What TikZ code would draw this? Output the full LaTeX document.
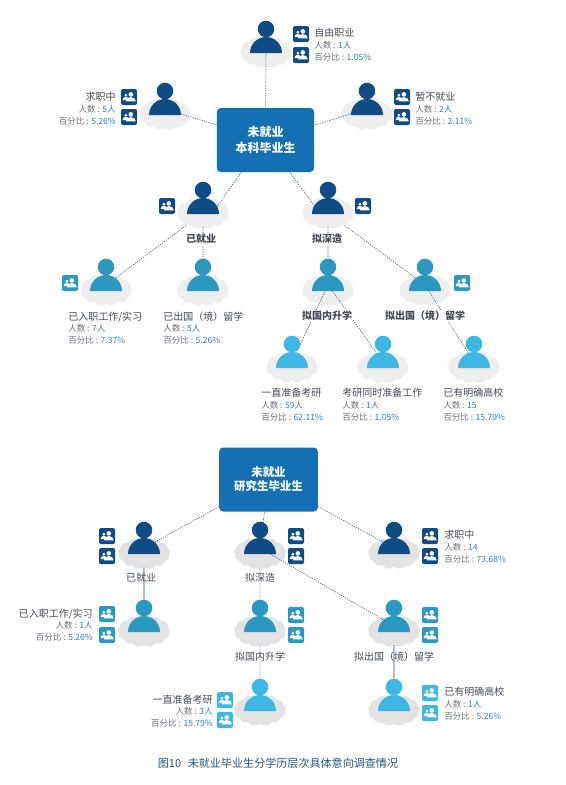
\documentclass[tikz,border=0pt]{standalone}
\usepackage{fontspec}
\setmainfont{Noto Sans CJK SC}
\usetikzlibrary{backgrounds,shapes.symbols}
\definecolor{navy}{HTML}{0F4C85}
\definecolor{teal}{HTML}{2A98C0}
\definecolor{sky}{HTML}{3DB8E4}
\definecolor{hubblue}{HTML}{1470B3}
\definecolor{cloudgrey}{HTML}{EEEEEE}
\definecolor{titleink}{HTML}{444A55}
\definecolor{keyink}{HTML}{6A6F78}
\definecolor{valink}{HTML}{2F80BD}
\definecolor{linkink}{HTML}{3A5A78}
\newcommand{\infotext}[3]{{\fontsize{7.5}{9}\selectfont\color{titleink}#1}\\{\color{keyink}人数 : }{\color{valink}#2}\\{\color{keyink}百分比 : }{\color{valink}#3}}

\begin{document}
\begin{tikzpicture}[
        x=0.75pt, y=-0.75pt,
        hub/.style={rectangle, rounded corners=3pt, fill=hubblue, text=white, align=center, font=\fontsize{9}{11.5}\selectfont\bfseries, minimum width=73pt, minimum height=48pt},
        blob/.style={cloud, cloud puffs=13, cloud puff arc=90, aspect=1.6, fill=cloudgrey, minimum width=39pt, minimum height=24pt, inner sep=0pt},
        headdot/.style={circle, minimum size=12.4pt, inner sep=0pt},
        badgebox/.style={rectangle, rounded corners=1.5pt, minimum size=12pt, inner sep=0pt},
        infol/.style={align=left, anchor=west, inner sep=0pt, font=\fontsize{6.4}{8.9}\selectfont},
        infor/.style={align=right, anchor=east, inner sep=0pt, font=\fontsize{6.4}{8.9}\selectfont},
        midlabel/.style={font=\fontsize{7.5}{9}\selectfont\bfseries, text=titleink, fill=white, inner sep=1pt},
        barelabel/.style={font=\fontsize{7.5}{9}\selectfont, text=titleink, inner sep=1pt},
        link/.style={draw=linkink, line width=0.45pt, dash pattern=on 0.9pt off 0.9pt},
        palelink/.style={draw=gray!70, line width=0.7pt, dash pattern=on 1pt off 0.7pt},
        solidlink/.style={draw=navy, line width=0.6pt},
        pics/person/.style={code={
          \begin{pgfonlayer}{background}
            \node[blob] (-cloud) at (0,23) {};
          \end{pgfonlayer}
          \coordinate (-mid) at (0,18);
          \fill[#1] (-16,24) .. controls (-16,15.2) and (-8.8,8) .. (0,8) .. controls (8.8,8) and (16,15.2) .. (16,24) -- cycle;
          \node[headdot, fill=#1] (-head) at (0,0) {};
        }},
        pics/badge/.style={code={
          \node[badgebox, fill=#1] (-box) at (0,0) {};
          \fill[white] (-3.2,-1.8) circle[radius=1.5];
          \fill[white] (-6.4,3) .. controls (-6.4,1.2) and (-5,-0.2) .. (-3.2,-0.2) .. controls (-1.4,-0.2) and (0,1.2) .. (0,3) -- cycle;
          \fill[white] (1.8,-2.6) circle[radius=2.3];
          \fill[white] (-3.2,4.4) .. controls (-3.2,2) and (-1,0) .. (1.8,0) .. controls (4.6,0) and (6.8,2) .. (6.8,4.4) -- cycle;
        }}
      ]
      \useasboundingbox (0,0) rectangle (566,785);

      \node[hub] (ubox) at (265.5,140) {未就业\\本科毕业生};
      \pic (free) at (266,29) {person=navy};
      \pic (seek) at (165,91) {person=navy};
      \pic (pause) at (367,91) {person=navy};
      \pic (emp) at (203,190) {person=navy};
      \pic (study) at (328,190) {person=navy};
      \pic (entry) at (106,267) {person=teal};
      \pic (gone) at (203,267) {person=teal};
      \pic (home) at (328,267) {person=teal};
      \pic (abroad) at (425,267) {person=teal};
      \pic (prep) at (292,344) {person=sky};
      \pic (both) at (383,344) {person=sky};
      \pic (school) at (474,344) {person=sky};

      \pic (freea) at (301,34) {badge=navy};
      \pic (freeb) at (301,55) {badge=navy};
      \pic (seeka) at (129,97) {badge=navy};
      \pic (seekb) at (129,117) {badge=navy};
      \pic (pausea) at (402,97) {badge=navy};
      \pic (pauseb) at (402,117) {badge=navy};
      \pic (empa) at (167,206) {badge=navy};
      \pic (studya) at (363,206) {badge=navy};
      \pic (entrya) at (70,283) {badge=teal};
      \pic (abroada) at (462,283) {badge=teal};

      \node[infol] (freetxt) at (314,45) {\infotext{自由职业}{1人}{1.05\%}};
      \node[infor] (seektxt) at (116,108.5) {\infotext{求职中}{5人}{5.26\%}};
      \node[infol] (pausetxt) at (415,108.5) {\infotext{暂不就业}{2人}{2.11\%}};
      \node[infol] (entrytxt) at (68,328) {\infotext{已入职工作/实习}{7人}{7.37\%}};
      \node[infol] (gonetxt) at (163,328) {\infotext{已出国（境）留学}{5人}{5.26\%}};
      \node[infol] (preptxt) at (261,404.5) {\infotext{一直准备考研}{59人}{62.11\%}};
      \node[infol] (bothtxt) at (342,404.5) {\infotext{考研同时准备工作}{1人}{1.05\%}};
      \node[infol] (schooltxt) at (443,404.5) {\infotext{已有明确高校}{15}{15.79\%}};

      \node[midlabel] (emplbl) at (201,239) {已就业};
      \node[midlabel] (studylbl) at (327,239) {拟深造};
      \node[midlabel] (homelbl) at (327,316) {拟国内升学};
      \node[midlabel] (abroadlbl) at (425,316) {拟出国（境）留学};

      \begin{scope}[on background layer]
        \draw[link] (free-mid) -- (ubox);
        \draw[link] (seek-mid) -- (ubox);
        \draw[link] (pause-mid) -- (ubox);
        \draw[link] (ubox.-127) -- ([xshift=9.75pt]emp-mid);
        \draw[link] (ubox.-53) -- ([xshift=-9pt]study-mid);
        \draw[link] (emp-cloud) -- (entry-mid);
        \draw[link] (emp-cloud) -- (gone-mid);
        \draw[link] (study-cloud) -- (home-mid);
        \draw[link] (study-cloud) -- (abroad-mid);
        \draw[link] (home-mid) -- (prep-mid);
        \draw[link] (home-mid) -- (both-mid);
        \draw[link] (abroad-mid) -- (school-mid);
      \end{scope}

      \colorlet{cloudgrey}{black!11}
      \node[hub, minimum width=74pt, font=\fontsize{8.6}{10.5}\selectfont\bfseries] (gbox) at (268.5,479.5) {未就业\\研究生毕业生};
      \pic (gemp) at (144,530) {person=navy};
      \pic (gstudy) at (260,530) {person=navy};
      \pic (gseek) at (394,530) {person=navy};
      \pic (gentry) at (144,608) {person=teal};
      \pic (ghome) at (260,608) {person=teal};
      \pic (gabroad) at (394,608) {person=teal};
      \pic (gprep) at (260,687) {person=sky};
      \pic (gschool) at (394,687) {person=sky};

      \pic (gempa) at (107,536) {badge=navy};
      \pic (gempb) at (107,556) {badge=navy};
      \pic (gstudya) at (296,536) {badge=navy};
      \pic (gstudyb) at (296,556) {badge=navy};
      \pic (gseeka) at (430,536) {badge=navy};
      \pic (gseekb) at (430,556) {badge=navy};
      \pic (gentrya) at (107,614) {badge=teal};
      \pic (gentryb) at (107,635) {badge=teal};
      \pic (ghomea) at (296,615) {badge=teal};
      \pic (ghomeb) at (296,635) {badge=teal};
      \pic (gabroada) at (430,615) {badge=teal};
      \pic (gabroadb) at (430,635) {badge=teal};
      \pic (gprepa) at (225,700) {badge=sky};
      \pic (gprepb) at (225,720) {badge=sky};
      \pic (gschoola) at (430,693) {badge=sky};
      \pic (gschoolb) at (430,713) {badge=sky};

      \node[infol] (gseektxt) at (444,546.5) {\infotext{求职中}{14}{73.68\%}};
      \node[infor] (gentrytxt) at (93,625) {\infotext{已入职工作/实习}{1人}{5.26\%}};
      \node[infor] (gpreptxt) at (213,711) {\infotext{一直准备考研}{3人}{15.79\%}};
      \node[infol] (gschooltxt) at (444,703.5) {\infotext{已有明确高校}{1人}{5.26\%}};

      \node[barelabel] (gemplbl) at (141,578) {已就业};
      \node[barelabel] (gstudylbl) at (260,578) {拟深造};
      \node[barelabel] (ghomelbl) at (260,657) {拟国内升学};
      \node[barelabel] (gabroadlbl) at (394,657) {拟出国（境）留学};

      \begin{scope}[on background layer]
        \draw[link] (gbox) -- (gemp-mid);
        \draw[link] (gbox) -- (gstudy-mid);
        \draw[link] (gbox) -- (gseek-mid);
        \draw[link] (gstudy-mid) -- (gabroad-mid);
        \draw[solidlink] (gemp-cloud) -- (gentry-head);
        \draw[palelink] (gstudy-cloud) -- (ghome-head);
        \draw[palelink] (ghome-cloud) -- (gprep-head);
        \draw[solidlink] (gabroad-cloud) -- (gschool-head);
      \end{scope}

      \node[font=\fontsize{8.3}{10}\selectfont, text=navy!85!gray] (caption) at (278,763) {图10\hspace{0.6em}未就业毕业生分学历层次具体意向调查情况};
    \end{tikzpicture}
\end{document}
